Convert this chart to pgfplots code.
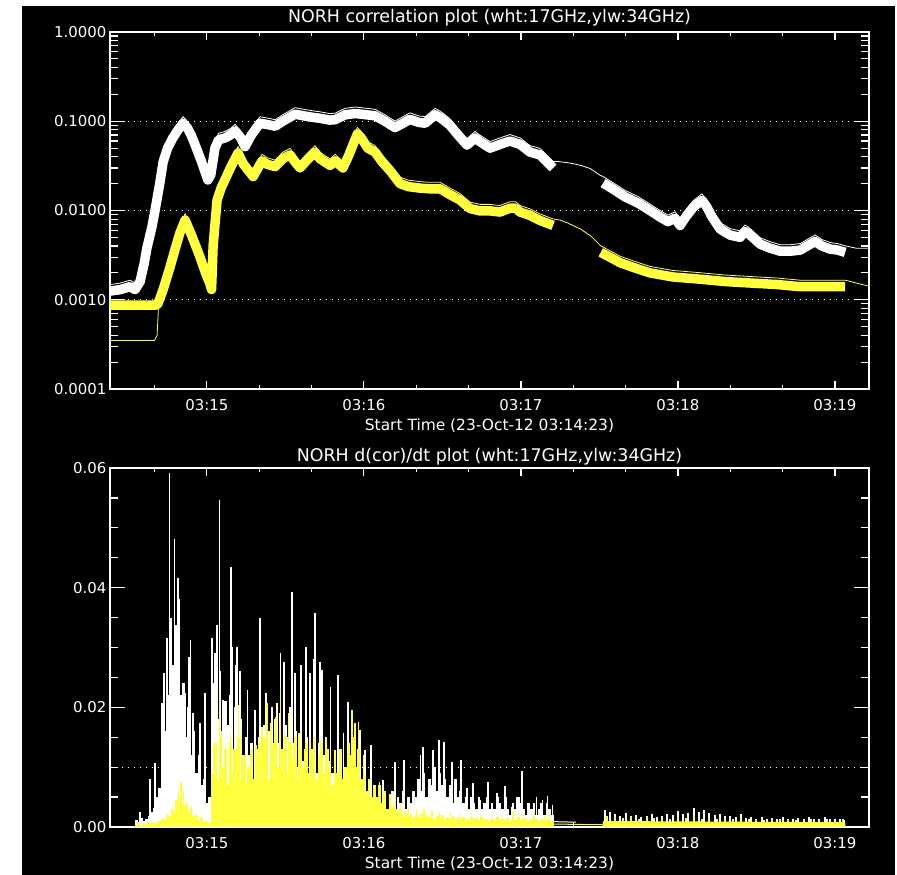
\documentclass[border=0pt]{standalone}
\usepackage{pgfplots}
\pgfplotsset{compat=1.18}
\usepackage{fontspec}
\setmainfont{DejaVu Sans}
\definecolor{ylw}{RGB}{255,255,64}
\pgfplotsset{
  idl/.style={
    scale only axis, width=759bp,
    xmin=0, xmax=290,
    axis line style={white, line width=1.2bp},
    every tick/.style={white, line width=1.2bp},
    major tick length=15bp, minor tick length=8bp,
    every major x tick/.append style={/pgfplots/major tick length=8bp},
    every minor x tick/.append style={/pgfplots/minor tick length=4bp},
    ticklabel style={white, font=\fontsize{15}{17}\selectfont},
    /pgf/number format/assume math mode=true,
    xticklabel style={yshift=-7bp},
    xlabel style={white, font=\fontsize{15.5}{17}\selectfont, yshift=-1bp},
    title style={white, font=\fontsize{17.5}{19}\selectfont},
    xtick={37,97,157,217,277},
    xticklabels={03:15,03:16,03:17,03:18,03:19},
    minor xtick={17,57,77,117,137,177,197,237,257},
    xlabel={Start Time (23-Oct-12 03:14:23)},
    scaled y ticks=false,
    clip=true,
  }
}
\begin{document}
\begin{tikzpicture}
\fill[white] (0bp,0bp) rectangle (897bp,875bp);
\fill[black] (22bp,0bp) rectangle (895bp,869bp);
% ---------------- top panel
\begin{axis}[idl, at={(110bp,486bp)}, anchor=south west, height=357bp,
  ymode=log, ymin=1e-4, ymax=1,
  ytick={1e-4,1e-3,1e-2,1e-1,1},
  yticklabels={0.0001,0.0010,0.0100,0.1000,1.0000},
  minor ytick={2e-4,3e-4,4e-4,5e-4,6e-4,7e-4,8e-4,9e-4,2e-3,3e-3,4e-3,5e-3,6e-3,7e-3,8e-3,9e-3,2e-2,3e-2,4e-2,5e-2,6e-2,7e-2,8e-2,9e-2,2e-1,3e-1,4e-1,5e-1,6e-1,7e-1,8e-1,9e-1},
  ymajorgrids, grid style={white, line width=1bp, dash pattern=on 1bp off 5bp},
  title={NORH correlation plot (wht:17GHz,ylw:34GHz)},
  title style={yshift=-4bp},
]
% white 17 GHz : thin line (full series, drawn just above the symbol band)
\addplot[white, line width=0.8bp, no marks, yshift=6.5bp] coordinates {
(0,0.00125) (4,0.0013) (7.6,0.0014) (9.6,0.0013) (11.5,0.0016) (13,0.0025) (14.1,0.0038) (16,0.0065) (17.2,0.01) (19,0.02)
(20.3,0.035) (22,0.05) (24,0.065) (26,0.08) (27.9,0.095) (29.5,0.085) (31,0.07) (33,0.05) (35,0.035) (37.4,0.022)
(38.5,0.025) (40.1,0.05) (41.5,0.062) (44,0.065) (46,0.07) (47.8,0.078) (50,0.065) (51.6,0.052) (54,0.07) (57.3,0.095)
(60,0.092) (63.1,0.088) (66,0.1) (70.7,0.12) (74,0.115) (78,0.11) (80.2,0.108) (84,0.103) (86,0.104) (89.8,0.118)
(93.6,0.122) (96,0.12) (101.3,0.115) (105,0.1) (108.9,0.085) (112,0.095) (114.6,0.105) (118,0.097) (120.4,0.095) (124.2,0.118)
(126.1,0.11) (128,0.1) (129.9,0.09) (133,0.07) (136.4,0.054) (139.5,0.065) (141,0.06) (145.2,0.05) (149,0.055) (152.8,0.06)
(156.7,0.055) (160.5,0.045) (164.3,0.042) (169.3,0.030) (170.8,0.030) (175,0.029) (177.7,0.028) (180,0.027) (183.4,0.025) (185.3,0.023)
(187.2,0.021) (188.4,0.0203) (192,0.0175) (196.8,0.0142) (202,0.012) (206.3,0.0100) (210,0.0085) (213.2,0.0075) (215.9,0.0082) (217.8,0.0068) (220,0.0085)
(223,0.011) (226.2,0.013) (228,0.011) (230,0.0085) (233.1,0.0062) (236.9,0.0053) (240.7,0.0050) (242.6,0.0058) (244,0.0055) (248.4,0.0042)
(252,0.0038) (256,0.0035) (260,0.0035) (263.7,0.0036) (267,0.0041) (269.4,0.0045) (272,0.0040) (275.1,0.0037) (278,0.0036) (280.9,0.0034)
(285,0.0032) (290,0.0032)};
% white thick segment 1
\addplot[white, line width=9.5bp, line join=round, no marks] coordinates {
(0,0.00125) (4,0.0013) (7.6,0.0014) (9.6,0.0013) (11.5,0.0016) (13,0.0025) (14.1,0.0038) (16,0.0065) (17.2,0.01) (19,0.02)
(20.3,0.035) (22,0.05) (24,0.065) (26,0.08) (27.9,0.095) (29.5,0.085) (31,0.07) (33,0.05) (35,0.035) (37.4,0.022)
(38.5,0.025) (40.1,0.05) (41.5,0.062) (44,0.065) (46,0.07) (47.8,0.078) (50,0.065) (51.6,0.052) (54,0.07) (57.3,0.095)
(60,0.092) (63.1,0.088) (66,0.1) (70.7,0.12) (74,0.115) (78,0.11) (80.2,0.108) (84,0.103) (86,0.104) (89.8,0.118)
(93.6,0.122) (96,0.12) (101.3,0.115) (105,0.1) (108.9,0.085) (112,0.095) (114.6,0.105) (118,0.097) (120.4,0.095) (124.2,0.118)
(126.1,0.11) (128,0.1) (129.9,0.09) (133,0.07) (136.4,0.054) (139.5,0.065) (141,0.06) (145.2,0.05) (149,0.055) (152.8,0.06)
(156.7,0.055) (160.5,0.045) (164.3,0.042) (169.3,0.030)};
% white thick segment 2
\addplot[white, line width=9.5bp, line join=round, no marks] coordinates {
(188.4,0.0203) (192,0.0175) (196.8,0.0142) (202,0.012) (206.3,0.0100) (210,0.0085) (213.2,0.0075) (215.9,0.0082) (217.8,0.0068) (220,0.0085)
(223,0.011) (226.2,0.013) (228,0.011) (230,0.0085) (233.1,0.0062) (236.9,0.0053) (240.7,0.0050) (242.6,0.0058) (244,0.0055) (248.4,0.0042)
(252,0.0038) (256,0.0035) (260,0.0035) (263.7,0.0036) (267,0.0041) (269.4,0.0045) (272,0.0040) (275.1,0.0037) (278,0.0036) (280.9,0.0034)};
% yellow 34 GHz : thin lines
\addplot[ylw, line width=0.8bp, no marks] coordinates {
(0,0.00035) (17,0.00035) (18,0.0004) (18.5,0.0008)};
\addplot[ylw, line width=0.8bp, no marks, yshift=6.5bp] coordinates {
(18.5,0.0009) (20.3,0.0013) (22.9,0.0023) (25,0.0038) (26.7,0.0056) (28.7,0.0078) (30.6,0.0058) (32.5,0.0042)
(34.4,0.0030) (36.5,0.0020) (38.2,0.0015) (38.8,0.0013) (39.4,0.004) (40.1,0.007) (40.9,0.013) (42.5,0.018) (43.9,0.022) (46,0.030)
(48.9,0.044) (51,0.033) (54.7,0.024) (58.1,0.036) (60,0.033) (63.1,0.031) (66,0.038) (68.8,0.042) (70.7,0.035) (72.6,0.030)
(75,0.036) (78.3,0.045) (80.2,0.038) (84.1,0.032) (86,0.036) (89,0.030) (91,0.040) (94.5,0.072) (96,0.065) (98.5,0.050)
(101.3,0.045) (104,0.035) (107,0.028) (110.8,0.020) (114,0.0185) (118.5,0.0178) (122,0.0175) (126.1,0.0175) (130,0.015) (133.7,0.0131)
(137.6,0.0105) (141.4,0.0099) (145.2,0.0099) (149,0.0096) (152.8,0.0106) (155,0.0106) (156.7,0.0096) (160.5,0.0088) (164,0.0078) (169.3,0.0068)
(172,0.0066) (175,0.0061) (180,0.0052) (184,0.0043) (187.5,0.0034) (191,0.0030) (194.9,0.0026) (200,0.0023) (206.3,0.0020) (215,0.0018) (225.4,0.0017) (235,0.0016) (244.6,0.00154) (255,0.00148)
(263.7,0.0014) (272,0.0014) (280.9,0.0014) (290,0.0012)};
% yellow thick segment 1
\addplot[ylw, line width=9.5bp, line join=round, no marks] coordinates {
(0,0.00087) (17.5,0.00087) (18.3,0.0009) (20.3,0.0013) (22.9,0.0023) (25,0.0038) (26.7,0.0056) (28.7,0.0078) (30.6,0.0058) (32.5,0.0042)
(34.4,0.0030) (36.5,0.0020) (38.2,0.0015) (38.8,0.0013) (39.4,0.004) (40.1,0.007) (40.9,0.013) (42.5,0.018) (43.9,0.022) (46,0.030)
(48.9,0.044) (51,0.033) (54.7,0.024) (58.1,0.036) (60,0.033) (63.1,0.031) (66,0.038) (68.8,0.042) (70.7,0.035) (72.6,0.030)
(75,0.036) (78.3,0.045) (80.2,0.038) (84.1,0.032) (86,0.036) (89,0.030) (91,0.040) (94.5,0.072) (96,0.065) (98.5,0.050)
(101.3,0.045) (104,0.035) (107,0.028) (110.8,0.020) (114,0.0185) (118.5,0.0178) (122,0.0175) (126.1,0.0175) (130,0.015) (133.7,0.0131)
(137.6,0.0105) (141.4,0.0099) (145.2,0.0099) (149,0.0096) (152.8,0.0106) (155,0.0106) (156.7,0.0096) (160.5,0.0088) (164,0.0078) (169.3,0.0068)};
% yellow thick segment 2
\addplot[ylw, line width=9.5bp, line join=round, no marks] coordinates {
(187.5,0.0034) (191,0.0030) (194.9,0.0026) (200,0.0023) (206.3,0.0020) (215,0.0018) (225.4,0.0017) (235,0.0016) (244.6,0.00154) (255,0.00148)
(263.7,0.0014) (272,0.0014) (280.9,0.0014)};
\end{axis}
% ---------------- bottom panel
\begin{axis}[idl, at={(110bp,48bp)}, anchor=south west, height=359bp,
  ymin=0, ymax=0.06,
  ytick={0,0.02,0.04,0.06},
  yticklabels={0.00,0.02,0.04,0.06},
  minor ytick={0.005,0.01,0.015,0.025,0.03,0.035,0.045,0.05,0.055},
  title={NORH d(cor)/dt plot (wht:17GHz,ylw:34GHz)},
  title style={yshift=-7bp},
]
\addplot[white, line width=1bp, dash pattern=on 1bp off 5bp, no marks] coordinates {(0,0.01) (290,0.01)};
% white dense
\addplot[ycomb, white, line width=2.7bp, no marks] coordinates {
(10,0.0012) (11,0.0008) (12,0.0015) (13,0.001) (14,0.0013) (15,0.0018) (16,0.0025) (17,0.0032) (18,0.005) (19,0.0065)
(20,0.012) (21,0.016) (22,0.022) (23,0.02) (24,0.027) (25,0.018) (26,0.028) (27,0.022) (28,0.024) (29,0.015)
(30,0.02) (31,0.012) (32,0.016) (33,0.009) (34,0.012) (35,0.007) (36,0.008) (37,0.004) (38,0.005) (39,0.014)
(40,0.024) (41,0.018) (42,0.026) (43,0.015) (44,0.021) (45,0.017) (46,0.022) (47,0.013) (48,0.02) (49,0.016)
(50,0.018) (51,0.01) (52,0.015) (53,0.012) (54,0.014) (55,0.008) (56,0.013) (57,0.015) (58,0.01) (59,0.017)
(60,0.012) (61,0.016) (62,0.009) (63,0.018) (64,0.014) (65,0.019) (66,0.011) (67,0.017) (68,0.015) (69,0.02)
(70,0.012) (71,0.016) (72,0.01) (73,0.014) (74,0.011) (75,0.015) (76,0.008) (77,0.013) (78,0.012) (79,0.009)
(80,0.014) (81,0.01) (82,0.012) (83,0.007) (84,0.011) (85,0.009) (86,0.012) (87,0.006) (88,0.01) (89,0.008)
(90,0.009) (91,0.005) (92,0.008) (93,0.007) (94,0.006) (95,0.008) (96,0.004) (97,0.006) (98,0.005) (99,0.007)
(100,0.004) (101,0.005) (102,0.003) (103,0.006) (104,0.004) (105,0.005) (106,0.003) (107,0.004) (108,0.006) (109,0.003)
(110,0.005) (111,0.004) (112,0.006) (113,0.003) (114,0.005) (115,0.004) (116,0.006) (117,0.005) (118,0.008) (119,0.006)
(120,0.009) (121,0.005) (122,0.008) (123,0.007) (124,0.01) (125,0.006) (126,0.009) (127,0.007) (128,0.008) (129,0.005)
(130,0.007) (131,0.004) (132,0.008) (133,0.005) (134,0.006) (135,0.004) (136,0.005) (137,0.003) (138,0.005) (139,0.004)
(140,0.003) (141,0.005) (142,0.003) (143,0.004) (144,0.005) (145,0.003) (146,0.004) (147,0.003) (148,0.005) (149,0.004)
(150,0.003) (151,0.005) (152,0.003) (153,0.002) (154,0.004) (155,0.003) (156,0.005) (157,0.004) (158,0.003) (159,0.002)
(160,0.004) (161,0.003) (162,0.004) (163,0.002) (164,0.003) (165,0.004) (166,0.002) (167,0.004) (168,0.003) (169,0.002)};
% white spikes
\addplot[ycomb, white, line width=1.2bp, no marks] coordinates {
(11.5,0.0025) (15.3,0.008) (17.2,0.0107) (19.9,0.0207) (20.6,0.0257) (21.8,0.0316) (22.6,0.0592) (23.3,0.035) (24.5,0.0481) (25.2,0.0338)
(26.0,0.0416) (26.7,0.0381) (28.7,0.0224) (30.2,0.0284) (30.9,0.0313) (31.7,0.019) (34.4,0.0174) (36.3,0.0224) (39.0,0.0316) (40.1,0.029)
(40.9,0.0338) (41.7,0.0547) (43.2,0.0212) (46.2,0.0434) (46.6,0.030) (47.8,0.027) (48.5,0.030) (49.7,0.026) (52.4,0.0229) (55.4,0.0196)
(57.3,0.035) (59.6,0.0224) (61.9,0.020) (63.8,0.0207) (65.0,0.029) (66.5,0.0276) (69.5,0.0393) (70.7,0.0257) (73.0,0.027) (74.9,0.030)
(76.4,0.0257) (77.6,0.028) (78.3,0.0357) (80.2,0.0276) (81.0,0.0262) (84.1,0.0234) (87.1,0.0254) (89.1,0.0157) (90.9,0.0209) (92.5,0.0196)
(95.5,0.0162) (97.4,0.0129) (99.7,0.0137) (104.3,0.0079) (108.9,0.0109) (112.3,0.0112) (115.8,0.0053) (118.5,0.012) (119.6,0.0134) (123.4,0.0129)
(125.7,0.0145) (127.6,0.0142) (130.7,0.0109) (134.1,0.0112) (136.4,0.0065) (138.7,0.0074) (141.4,0.0045) (144.4,0.0075) (147.9,0.0057) (150.9,0.0069)
(153.6,0.0034) (155.5,0.005) (157.4,0.0094) (159.7,0.0035) (163.1,0.005) (165.4,0.0045) (167.3,0.0052) (169.0,0.0037)};
\addplot[ycomb, white, line width=2bp, no marks] coordinates {
(189,0.0028) (191,0.0025) (193,0.0022) (195,0.0018) (197,0.0023) (199,0.0017) (201,0.002) (203,0.0016) (205,0.0019) (207,0.0021)
(209,0.0017) (211,0.0019) (213,0.0022) (215,0.002) (217,0.0026) (219,0.0022) (221,0.0024) (223,0.0031) (225,0.0025) (227,0.0029)
(229,0.0023) (231,0.002) (233,0.0022) (235,0.0018) (237,0.0019) (239,0.0016) (241,0.0021) (243,0.0015) (245,0.0017) (247,0.0014)
(249,0.0016) (251,0.0013) (253,0.0015) (255,0.0014) (257,0.0016) (259,0.0013) (261,0.0014) (263,0.0015) (265,0.0013) (267,0.0017)
(269,0.0014) (271,0.0013) (273,0.0016) (275,0.0013) (277,0.0014) (279,0.0013) (280.5,0.0012)};
\addplot[white, line width=1bp, no marks] coordinates {(169.3,0.0009) (178,0.0008)};
% yellow dense
\addplot[ycomb, ylw, line width=2.7bp, no marks] coordinates {
(10,0.0004) (11,0.0006) (12,0.0003) (13,0.0007) (14,0.0005) (15,0.0008) (16,0.0006) (17,0.0007) (18,0.0009) (19,0.001)
(20,0.0014) (21,0.0012) (22,0.002) (23,0.0018) (24,0.003) (25,0.0025) (26,0.0045) (27,0.005) (28,0.0035) (29,0.004)
(30,0.0025) (31,0.003) (32,0.0018) (33,0.002) (34,0.0012) (35,0.0015) (36,0.0008) (37,0.001) (38,0.0006) (39,0.009)
(40,0.014) (41,0.008) (42,0.015) (43,0.010) (44,0.013) (45,0.007) (46,0.014) (47,0.009) (48,0.013) (49,0.015)
(50,0.008) (51,0.012) (52,0.007) (53,0.010) (54,0.013) (55,0.008) (56,0.012) (57,0.014) (58,0.009) (59,0.015)
(60,0.013) (61,0.008) (62,0.014) (63,0.016) (64,0.010) (65,0.017) (66,0.013) (67,0.015) (68,0.009) (69,0.014)
(70,0.011) (71,0.015) (72,0.008) (73,0.013) (74,0.010) (75,0.014) (76,0.009) (77,0.013) (78,0.015) (79,0.008)
(80,0.012) (81,0.014) (82,0.009) (83,0.013) (84,0.010) (85,0.007) (86,0.012) (87,0.009) (88,0.013) (89,0.008)
(90,0.010) (91,0.014) (92,0.012) (93,0.015) (94,0.010) (95,0.013) (96,0.008) (97,0.009) (98,0.006) (99,0.008)
(100,0.005) (101,0.007) (102,0.005) (103,0.007) (104,0.004) (105,0.006) (106,0.003) (107,0.0045) (108,0.0035) (109,0.003)
(110,0.0025) (111,0.003) (112,0.002) (113,0.0025) (114,0.0018) (115,0.0022) (116,0.0015) (117,0.002) (118,0.0017) (119,0.0022)
(120,0.0014) (121,0.002) (122,0.0016) (123,0.0019) (124,0.0013) (125,0.0018) (126,0.0015) (127,0.002) (128,0.0012) (129,0.0017)
(130,0.0014) (131,0.0019) (132,0.0013) (133,0.0016) (134,0.0012) (135,0.0017) (136,0.0014) (137,0.0011) (138,0.0016) (139,0.0013)
(140,0.0015) (141,0.0011) (142,0.0016) (143,0.0013) (144,0.0014) (145,0.001) (146,0.0015) (147,0.0012) (148,0.0016) (149,0.0011)
(150,0.0014) (151,0.0012) (152,0.0015) (153,0.001) (154,0.0014) (155,0.0012) (156,0.0016) (157,0.0011) (158,0.0013) (159,0.0015)
(160,0.001) (161,0.0014) (162,0.0012) (163,0.0013) (164,0.001) (165,0.0014) (166,0.0011) (167,0.0013) (168,0.0012) (169,0.001)};
% yellow spikes
\addplot[ycomb, ylw, line width=1.2bp, no marks] coordinates {
(21.5,0.002) (23.5,0.003) (25.2,0.0045) (26.3,0.0065) (27.1,0.0075) (28,0.006) (29.5,0.004) (31,0.0035)
(33,0.002) (35,0.0018) (39.4,0.01) (40.5,0.014) (41.7,0.0229) (42.5,0.016) (44.2,0.014) (45.9,0.016) (47.4,0.013) (49.0,0.0204)
(50.3,0.016) (51.8,0.012) (54.0,0.013) (55.8,0.0137) (58.1,0.0167) (60.0,0.0207) (61.5,0.0174) (63.4,0.0184) (65.0,0.0234) (66.8,0.016)
(68.2,0.019) (70,0.014) (72.2,0.0157) (74.5,0.013) (76.4,0.0145) (78.0,0.015) (80.5,0.0145) (82.5,0.015) (84.1,0.012) (86.0,0.0129)
(88.5,0.011) (92.5,0.0196) (93.6,0.0174) (95.0,0.0176) (97,0.012) (99,0.008) (101,0.007) (103,0.0075) (105,0.006) (107,0.0055)
(109,0.005) (111,0.004) (114,0.0035) (117,0.003) (120,0.003) (123,0.0028) (126,0.0025) (130,0.0026) (134,0.0022) (138,0.0023)
(142,0.002) (146,0.0024) (150,0.002) (154,0.0025) (158,0.0022) (162,0.0024) (166,0.002) (168,0.0021)};
\addplot[ycomb, ylw, line width=2bp, no marks] coordinates {
(190,0.0019) (193,0.0017) (196,0.0015) (199,0.0018) (202,0.0014) (205,0.0016) (208,0.0015) (211,0.0017) (214,0.0013) (217,0.0016)
(220,0.0015) (223,0.0018) (226,0.0014) (229,0.0016) (232,0.0013) (235,0.0015) (238,0.0014) (241,0.0016) (244,0.0013) (247,0.0014)
(250,0.0012) (253,0.0015) (256,0.0013) (259,0.0014) (262,0.0012) (265,0.0014) (268,0.0013) (271,0.0012) (274,0.0014) (277,0.0012) (280,0.0013)};
\addplot[fill=ylw, draw=none, no marks] coordinates {(188,0) (188.4,0.001) (280.9,0.0008) (281,0)};
\addplot[ylw, line width=1bp, no marks] coordinates {(169.3,0.0005) (183,0.0004) (188,0.0004)};
\end{axis}
\end{tikzpicture}
\end{document}
